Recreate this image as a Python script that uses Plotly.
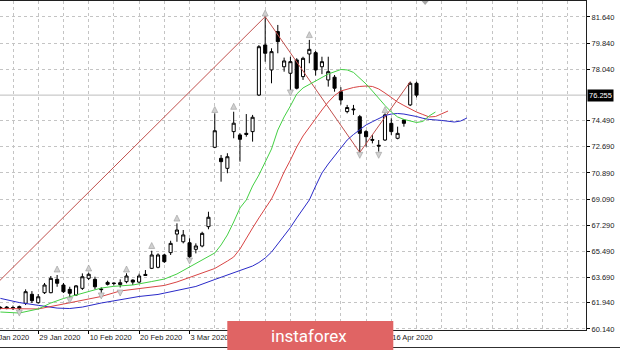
import plotly.graph_objects as go

# ---------------- data (bar index k: 0 = 21 Jan 2020, trading days) ----------------
bar_k = list(range(67))
opens = [61.63, 61.55, 61.62, 61.55, 61.91, 62.53, 61.95, 62.64, 62.64, 63.56,
         63.17, 62.87, 62.48, 62.94, 63.63, 63.56, 62.85, 63.35, 63.30, 63.20,
         63.40, 63.51, 63.37, 63.90, 64.32, 64.39, 65.24, 65.40, 66.68, 66.15,
         66.08, 65.63, 65.86, 67.19, 72.66, 71.90, 71.21, 73.74, 73.51, 73.62,
         73.74, 76.26, 79.71, 77.99, 80.63, 78.21, 77.76, 78.68, 77.53, 79.09,
         79.18, 78.21, 77.30, 77.49, 76.49, 75.12, 75.30, 74.77, 73.74, 73.20,
         72.80, 73.16, 74.31, 73.28, 74.54, 75.58, 77.07]
highs = [61.70, 61.72, 61.75, 61.75, 62.87, 62.75, 62.55, 63.31, 63.79, 63.86,
         63.31, 63.05, 63.17, 63.97, 64.02, 63.74, 63.01, 63.47, 63.35, 63.56,
         63.98, 63.56, 63.95, 64.20, 65.53, 65.35, 65.31, 66.22, 67.42, 66.96,
         66.39, 66.04, 66.84, 68.22, 75.00, 72.13, 72.25, 75.11, 73.63, 74.95,
         74.89, 79.70, 81.66, 79.48, 81.09, 78.84, 78.90, 78.80, 78.90, 80.06,
         79.30, 78.90, 78.90, 77.64, 76.80, 75.58, 75.58, 74.89, 73.85, 73.50,
         73.16, 75.00, 74.66, 74.08, 74.59, 77.18, 77.18]
lows = [61.50, 61.50, 61.45, 61.40, 61.79, 61.93, 61.90, 62.55, 62.60, 63.05,
        62.62, 62.25, 62.41, 62.83, 63.51, 62.87, 62.64, 63.14, 63.15, 63.00,
        63.29, 63.17, 63.30, 63.80, 64.27, 64.32, 64.69, 65.24, 66.15, 66.04,
        64.89, 65.35, 65.77, 67.01, 72.60, 70.29, 70.87, 73.28, 71.67, 73.39,
        73.05, 76.20, 78.56, 77.07, 79.14, 77.87, 76.55, 76.65, 77.30, 78.45,
        77.60, 77.70, 76.84, 76.49, 75.60, 75.00, 74.89, 72.30, 72.70, 72.93,
        72.36, 73.10, 73.51, 73.21, 74.08, 75.50, 76.10]
closes = [61.55, 61.65, 61.60, 61.68, 62.71, 62.09, 62.36, 63.17, 63.63, 63.29,
          62.71, 62.60, 63.11, 63.74, 63.91, 63.05, 62.88, 63.22, 63.28, 63.33,
          63.79, 63.37, 63.79, 63.83, 65.24, 65.24, 64.78, 66.04, 66.96, 66.62,
          65.12, 65.86, 66.73, 67.84, 73.80, 71.67, 72.01, 74.32, 73.21, 73.55,
          74.73, 79.59, 79.14, 79.25, 79.94, 78.61, 78.56, 76.73, 78.79, 79.41,
          77.99, 78.56, 77.87, 76.73, 75.92, 75.40, 75.25, 73.62, 73.39, 73.15,
          72.75, 74.89, 73.74, 73.62, 74.31, 77.07, 76.255]

# Alligator lines (shifted forward)
lips_k = [0, 3, 6, 8, 10, 13, 16, 18, 21, 24, 26, 28, 30, 32, 34, 35, 36, 37, 38, 39,
          40, 41, 42, 43, 44, 45, 46, 47, 48, 50, 52, 54, 55, 56, 57, 58, 59, 60, 61,
          62, 63, 64, 65, 66, 67, 68, 69]
lips_v = [61.31, 61.24, 61.52, 61.93, 62.24, 62.62, 62.96, 63.08, 63.17, 63.41, 63.58,
          63.93, 64.41, 64.89, 65.38, 65.93, 66.62, 67.51, 68.48, 69.03, 69.99, 70.75,
          71.65, 72.54, 73.85, 74.75, 75.51, 76.33, 76.75, 77.23, 77.71, 78.02, 77.99,
          77.82, 77.44, 77.02, 76.54, 76.02, 75.54, 75.09, 74.75, 74.58, 74.47, 74.37,
          74.44, 74.82, 75.09]
teeth_k = [0, 6, 10, 13, 16, 19, 22, 26, 28, 30, 32, 34, 36, 37, 38, 39, 40, 41, 42,
           43, 44, 45, 46, 47, 48, 49, 50, 51, 52, 53, 54, 55, 56, 57, 58, 59, 60, 61,
           62, 63, 64, 65, 66, 67, 68, 69, 70, 71]
teeth_v = [61.55, 61.52, 61.86, 62.14, 62.38, 62.76, 62.93, 63.14, 63.38, 63.69, 63.96,
           64.31, 64.82, 65.10, 65.65, 66.41, 67.10, 67.79, 68.48, 69.10, 69.99, 70.96,
           71.78, 72.68, 73.44, 74.06, 74.68, 75.23, 75.78, 76.23, 76.54, 76.68, 76.78,
           76.85, 76.88, 76.85, 76.68, 76.40, 76.09, 75.78, 75.54, 75.30, 75.09, 74.92,
           74.75, 74.78, 74.96, 75.16]
jaw_k = [0, 3, 6, 9, 11, 13, 16, 19, 22, 25, 28, 31, 34, 37, 39, 40, 41, 42, 43, 44,
         45, 46, 47, 48, 49, 50, 51, 52, 53, 54, 55, 56, 57, 58, 59, 60, 61, 62, 63,
         64, 65, 66, 67, 68, 70, 72, 73, 74]
jaw_v = [62.25, 61.96, 61.77, 61.58, 61.55, 61.65, 61.93, 62.14, 62.38, 62.52, 62.79,
         63.07, 63.55, 64.00, 64.31, 64.48, 64.72, 65.03, 65.44, 66.00, 66.55, 67.13,
         67.79, 68.44, 69.03, 69.99, 70.89, 71.51, 72.06, 72.65, 73.16, 73.54, 73.89,
         74.20, 74.42, 74.65, 74.85, 74.95, 74.99, 74.95, 74.89, 74.78, 74.66, 74.58,
         74.51, 74.40, 74.47, 74.68]

# ZigZag
zz_k = [-10, 42, 57, 65]
zz_v = [59.20, 81.66, 72.30, 77.18]

# Fractals
up_k = [9, 14, 20, 24, 28, 34, 37, 42, 49, 61]
up_v = [64.48, 64.55, 64.48, 66.10, 67.99, 75.47, 75.69, 82.12, 80.63, 75.46]
dn_k = [3, 11, 16, 19, 30, 46, 57, 60]
dn_v = [61.03, 61.91, 62.21, 62.41, 64.62, 76.20, 71.90, 71.90]

# Axis labels (those under the watermark are not visible in the source)
date_k = [6, 14, 22, 30, 38, 46, 54, 62]
date_labels = ["29 Jan 2020", "10 Feb 2020", "20 Feb 2020", "3 Mar 2020",
               "", "", "", "16 Apr 2020"]
first_date_label = "17 Jan 2020"
price_ticks = [81.640, 79.840, 78.040, 74.490, 72.690, 70.890, 69.090, 67.290,
               65.490, 63.690, 61.940, 60.140]
last_price = 76.255

# ---------------- figure ----------------
FONT = "Liberation Sans"
TXT = "#1a1a1a"
GRID = "#c4c4c4"

fig = go.Figure()

fig.add_trace(go.Scatter(x=zz_k, y=zz_v, mode="lines",
                         line=dict(color="#c0504d", width=1), hoverinfo="skip"))
fig.add_trace(go.Scatter(x=jaw_k, y=jaw_v, mode="lines",
                         line=dict(color="#2a2ac8", width=1), hoverinfo="skip"))
fig.add_trace(go.Scatter(x=teeth_k, y=teeth_v, mode="lines",
                         line=dict(color="#d84444", width=1), hoverinfo="skip"))
fig.add_trace(go.Scatter(x=lips_k, y=lips_v, mode="lines",
                         line=dict(color="#44d044", width=1), hoverinfo="skip"))

fig.add_trace(go.Candlestick(
    x=bar_k, open=opens, high=highs, low=lows, close=closes,
    increasing=dict(line=dict(color="black", width=1), fillcolor="white"),
    decreasing=dict(line=dict(color="black", width=1), fillcolor="black"),
    whiskerwidth=0, hoverinfo="skip"))

fig.add_trace(go.Scatter(x=up_k, y=up_v, mode="markers", cliponaxis=False,
                         marker=dict(symbol="arrow-up", size=6, color="#d0d0d0",
                                     line=dict(color="#9a9a9a", width=0.6)),
                         hoverinfo="skip"))
fig.add_trace(go.Scatter(x=dn_k, y=dn_v, mode="markers", cliponaxis=False,
                         marker=dict(symbol="arrow-down", size=6, color="#d0d0d0",
                                     line=dict(color="#9a9a9a", width=0.6)),
                         hoverinfo="skip"))

fig.update_layout(
    width=620, height=350, autosize=False,
    margin=dict(l=0, r=34, t=1, b=20),
    paper_bgcolor="white", plot_bgcolor="white",
    showlegend=False,
    font=dict(family=FONT, size=7.5, color=TXT),
    xaxis=dict(
        range=[-0.063, 92.88], rangeslider=dict(visible=False),
        tickmode="array", tickvals=date_k, ticktext=date_labels,
        ticklabelposition="outside right", tickangle=0, automargin=False,
        ticks="outside", ticklen=3, tickcolor="black", tickwidth=1,
        showgrid=True, gridcolor=GRID, griddash="3px,3px", gridwidth=1,
        minor=dict(tickmode="linear", tick0=2, dtick=4, showgrid=True,
                   gridcolor=GRID, griddash="3px,3px", gridwidth=1),
        showline=True, linecolor="#202020", linewidth=1, mirror=True,
        zeroline=False, fixedrange=True,
        tickfont=dict(family=FONT, size=7.5, color=TXT),
    ),
    yaxis=dict(
        range=[60.07, 82.74], side="right", automargin=False,
        tickmode="array", tickvals=price_ticks,
        ticktext=[f"{v:.3f}" for v in price_ticks],
        ticks="outside", ticklen=3, tickcolor="black", tickwidth=1,
        showgrid=True, gridcolor=GRID, griddash="3px,3px", gridwidth=1,
        showline=True, linecolor="#202020", linewidth=1,
        zeroline=False, fixedrange=True,
        tickfont=dict(family=FONT, size=7.5, color=TXT),
    ),
)

# current price line and label
fig.add_shape(type="line", xref="paper", x0=0, x1=1, yref="y",
              y0=last_price, y1=last_price, line=dict(color="#bdbdbd", width=1),
              layer="below")
fig.add_annotation(xref="paper", x=1, yref="y", y=last_price, xanchor="left",
                   xshift=1, yanchor="middle", text=f"{last_price:.3f}",
                   showarrow=False, bgcolor="black", borderpad=1,
                   font=dict(family=FONT, size=7.5, color="white"))

# partially visible first date label
fig.add_annotation(xref="paper", x=(0.4 - 2 * 6.305) / 586, yref="paper", y=-0.024,
                   xanchor="left", yanchor="middle", xshift=-2,
                   text=first_date_label, showarrow=False,
                   font=dict(family=FONT, size=7.5, color=TXT))

# chart shift marker
fig.add_shape(type="path", xref="paper", yref="paper",
              path="M 0.7195 1.0 L 0.7315 1.0 L 0.7255 0.988 Z",
              fillcolor="#a8a8a8", line=dict(width=0), layer="above")

# window bottom border
fig.add_shape(type="line", xref="paper", yref="paper", x0=0, x1=620 / 586,
              y0=-0.0532, y1=-0.0532, line=dict(color="#303030", width=1))

# watermark logo
fig.add_shape(type="rect", xref="paper", yref="paper",
              x0=227.3 / 586, x1=393.3 / 586, y0=-0.07, y1=0.0274,
              fillcolor="#e06464", line=dict(width=0), layer="above")
fig.add_annotation(xref="paper", yref="paper", x=309 / 586, y=-0.018,
                   xanchor="center", yanchor="middle", text="instaforex",
                   showarrow=False,
                   font=dict(family="Roboto", size=17, color="white"))

fig.write_html("out.html")
